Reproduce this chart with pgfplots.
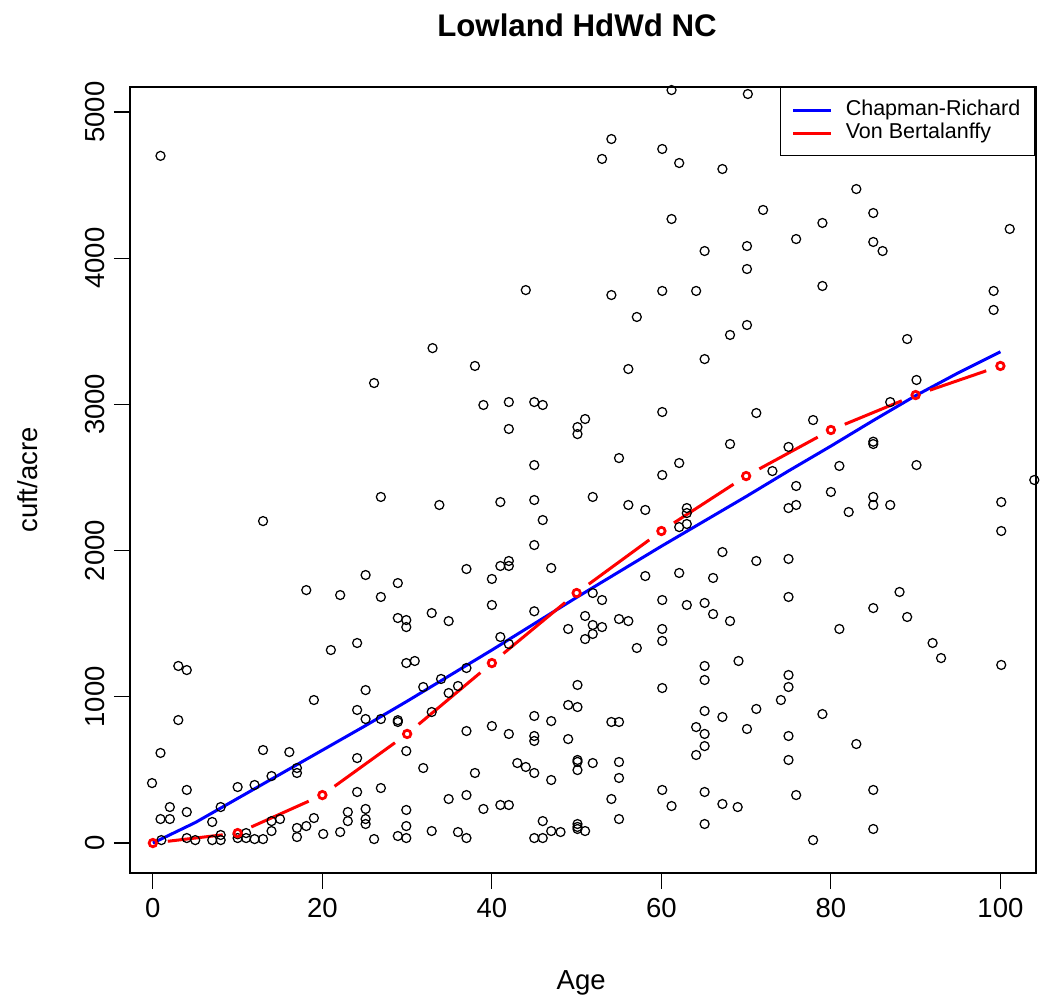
\documentclass[border=0pt]{standalone}
\usepackage{fontspec}
\setmainfont{Liberation Sans}
\usepackage{pgfplots}
\usepackage{pgfplotstable}
\pgfplotsset{compat=1.18}
\pgfplotstableread{
x y
0.9 4700
61.2 5150
54.1 4815
60.1 4747
53.0 4679
62.1 4651
67.2 4610
61.2 4268
65.1 4049
44.0 3782
54.1 3748
60.1 3776
64.1 3776
57.1 3598
68.1 3475
33.0 3385
70.2 5123
83.0 4473
72.0 4330
85.0 4309
79.0 4241
75.9 4131
70.1 4083
85.0 4111
86.1 4049
101.1 4200
70.1 3926
79.0 3810
99.2 3776
99.2 3646
70.1 3543
89.0 3447
97.0 5215
26.1 3146
26.9 2367
13.0 2202
25.1 1833
18.1 1730
22.1 1696
26.9 1683
28.9 1778
38.0 3263
56.1 3242
65.1 3310
39.0 2996
42.0 3016
45.0 3016
46.0 2996
51.0 2900
50.1 2845
50.1 2797
42.0 2832
60.1 2948
68.1 2729
55.0 2633
62.1 2599
60.1 2517
45.0 2585
51.9 2367
56.1 2312
58.1 2278
33.8 2312
41.0 2332
45.0 2346
46.0 2209
63.0 2291
63.0 2257
62.1 2161
63.0 2182
45.0 2038
37.0 1874
40.0 1806
41.0 1895
42.0 1929
42.0 1895
47.0 1881
67.2 1990
58.1 1826
62.1 1847
66.1 1813
51.9 1710
53.0 1662
40.0 1628
45.0 1585
60.1 1662
63.0 1628
65.1 1642
71.2 2941
77.9 2893
90.1 3167
87.0 3016
75.0 2709
85.0 2729
85.0 2745
90.1 2585
81.0 2579
73.1 2544
75.9 2442
80.0 2401
85.0 2367
85.0 2312
87.0 2312
75.0 2291
75.9 2312
82.1 2264
104.0 2483
100.1 2332
100.1 2134
71.2 1929
75.0 1943
75.0 1683
88.1 1717
85.0 1607
3.0 1211
4.0 1183
3.0 841
0.9 616
-0.1 410
4.0 363
2.0 246
0.9 164
2.0 164
4.0 212
1.0 20
4.0 34
5.0 20
7.0 144
7.0 20
8.0 20
8.0 55
8.0 246
10.0 60
11.0 68
11.0 34
10.0 34
12.0 27
13.0 27
13.0 636
16.1 622
12.0 397
10.0 383
14.0 458
14.0 150
15.0 164
14.0 82
17.0 513
17.0 479
19.0 978
21.0 1320
24.1 1368
25.1 1046
24.1 910
25.1 848
26.9 848
28.9 828
28.9 840
28.9 1539
29.9 1525
29.9 1477
32.9 1573
29.9 1231
30.9 1245
31.9 1067
32.9 896
31.9 513
29.9 629
26.9 376
24.1 581
24.1 349
25.1 233
25.1 164
25.1 130
23.0 212
23.0 150
19.0 171
18.1 116
17.0 103
17.0 41
20.1 62
22.1 75
26.1 27
28.9 48
29.9 34
29.9 116
29.9 226
32.9 82
34.9 1518
66.1 1566
68.1 1518
51.0 1553
51.9 1491
53.0 1477
55.0 1532
56.1 1518
49.0 1464
51.0 1395
51.9 1430
60.1 1464
60.1 1382
57.1 1334
41.0 1409
42.0 1361
37.0 1197
34.0 1122
34.9 1026
36.0 1074
50.1 1081
69.1 1245
65.1 1211
65.1 1115
60.1 1060
49.0 944
50.1 930
45.0 869
47.0 834
54.1 828
55.0 828
37.0 766
40.0 800
42.0 746
45.0 732
45.0 698
49.0 711
65.1 903
67.2 862
64.1 793
65.1 746
65.1 663
64.1 602
50.1 568
50.1 555
50.1 499
51.9 547
55.0 554
55.0 445
43.0 547
44.0 520
45.0 479
47.0 431
38.0 479
60.1 363
61.2 253
65.1 349
67.2 267
69.0 246
54.1 301
55.0 164
65.1 130
34.9 301
37.0 328
39.0 233
41.0 260
42.0 260
46.0 150
36.0 75
37.0 34
45.0 34
46.0 34
47.0 82
48.1 75
50.1 130
50.1 110
50.1 96
51.0 82
89.0 1546
81.0 1464
92.0 1368
93.0 1265
100.1 1218
75.0 1149
75.0 1067
74.1 978
71.2 917
70.1 780
79.0 882
75.0 732
83.0 677
75.0 568
75.9 328
85.0 363
85.0 96
77.9 20
}\scatterdata
\begin{document}
\begin{tikzpicture}
\useasboundingbox (-52pt,-52.8pt) rectangle (366.4pt,349.2pt);
\begin{axis}[
  at={(0pt,0pt)}, anchor=south west,
  scale only axis, width=362.4pt, height=314.4pt,
  xmin=-2.7, xmax=104.2, ymin=-205, ymax=5171,
  xtick={0,20,...,100}, ytick={0,1000,...,5000},
  tick align=outside, tick pos=left, major tick length=6.4pt,
  axis line style={line width=0.7pt},
  tick style={line width=0.45pt, black},
  /pgf/number format/assume math mode=true,
  /pgf/number format/1000 sep={},
  ticklabel style={font=\fontsize{11}{12}\selectfont},
  yticklabel style={rotate=90, anchor=south, xshift=0pt},
  label style={font=\fontsize{11}{12}\selectfont},
  xlabel={Age}, ylabel={cuft/acre},
  xlabel style={at={(axis description cs:0.498,-0.140)}, anchor=center},
  ylabel style={at={(axis description cs:-0.1126,0.5)}, anchor=center},
  title={Lowland HdWd NC},
  title style={font=\fontsize{12.5}{14}\selectfont\bfseries, at={(axis description cs:0.4934,1.0598)}, anchor=center, yshift=0pt},
  legend style={at={(axis description cs:1,1)}, anchor=north east, draw=black, line width=0.6pt, fill=white,
    font=\fontsize{8.6}{10}\selectfont, inner xsep=4.6pt, inner ysep=4.4pt,
    nodes={inner xsep=1.4pt, inner ysep=0.4pt, text height=6.5pt, text depth=1.9pt},
    /tikz/every odd column/.append style={column sep=4pt}},
  legend cell align=left,
  legend image code/.code={\draw[#1] (0pt,0pt) -- (15pt,0pt);},
]
\addplot[only marks, mark=o, mark size=1.8pt, mark options={line width=0.5pt, black}, forget plot] table[x=x,y=y] {\scatterdata};
\addplot[blue, line width=1.2pt, forget plot] coordinates {
(0,0) (5,140) (10,305) (15,470) (20,635) (25,800) (30,970) (35,1145) (40,1320) (45,1500) (50,1680) (55,1855) (60,2030) (65,2200) (70,2370) (75,2545) (80,2715) (85,2890) (90,3060) (95,3215) (100,3360)};
\addplot[red, line width=1.2pt, shorten >=6pt, shorten <=6pt, forget plot] coordinates {(0,0) (10,68)};
\addplot[red, line width=1.2pt, shorten >=6pt, shorten <=6pt, forget plot] coordinates {(10,68) (20,328)};
\addplot[red, line width=1.2pt, shorten >=6pt, shorten <=6pt, forget plot] coordinates {(20,328) (30,746)};
\addplot[red, line width=1.2pt, shorten >=6pt, shorten <=6pt, forget plot] coordinates {(30,746) (40,1231)};
\addplot[red, line width=1.2pt, shorten >=6pt, shorten <=6pt, forget plot] coordinates {(40,1231) (50,1710)};
\addplot[red, line width=1.2pt, shorten >=6pt, shorten <=6pt, forget plot] coordinates {(50,1710) (60,2134)};
\addplot[red, line width=1.2pt, shorten >=6pt, shorten <=6pt, forget plot] coordinates {(60,2134) (70,2510)};
\addplot[red, line width=1.2pt, shorten >=6pt, shorten <=6pt, forget plot] coordinates {(70,2510) (80,2825)};
\addplot[red, line width=1.2pt, shorten >=6pt, shorten <=6pt, forget plot] coordinates {(80,2825) (90,3064)};
\addplot[red, line width=1.2pt, shorten >=6pt, shorten <=6pt, forget plot] coordinates {(90,3064) (100,3263)};
\addplot[only marks, mark=o, mark size=1.5pt, mark options={line width=1.1pt, red}, forget plot] coordinates {
(0,0) (10,68) (20,328) (30,746) (40,1231) (50,1710) (60,2134) (70,2510) (80,2825) (90,3064) (100,3263)};
\addlegendimage{blue, line width=1.2pt}
\addlegendentry{Chapman-Richard}
\addlegendimage{red, line width=1.2pt}
\addlegendentry{Von Bertalanffy}
\end{axis}
\end{tikzpicture}
\end{document}
